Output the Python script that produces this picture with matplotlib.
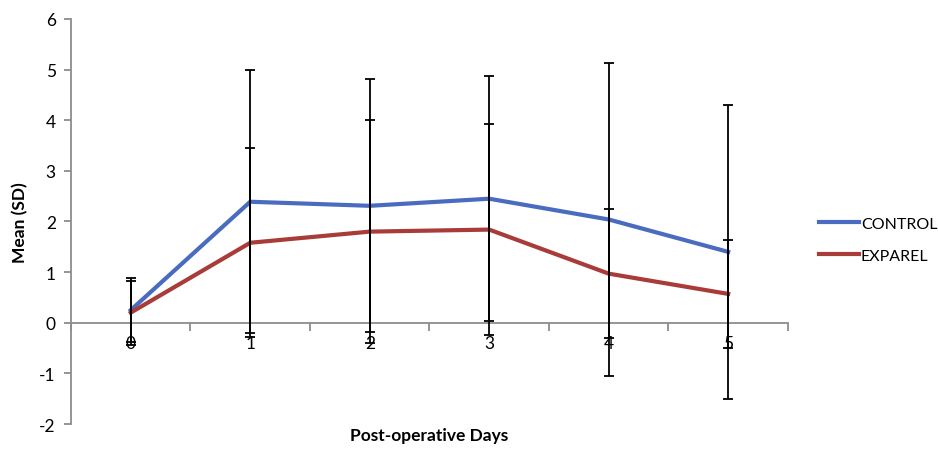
import matplotlib.pyplot as plt
import numpy as np

days = [0, 1, 2, 3, 4, 5]
control_mean = [0.25, 2.39, 2.31, 2.45, 2.04, 1.40]
control_sd = [0.63, 2.60, 2.50, 2.42, 3.10, 2.90]
exparel_mean = [0.20, 1.58, 1.80, 1.84, 0.97, 0.57]
exparel_sd = [0.63, 1.87, 2.20, 2.08, 1.27, 1.06]

BLUE = "#4A6CC0"
RED = "#A93B39"
GRAY = "#8C8C8C"

plt.rcParams["font.family"] = ["Lato", "DejaVu Sans"]
plt.rcParams["axes.unicode_minus"] = False

fig = plt.figure(figsize=(9.38, 4.52), dpi=100)
ax = fig.add_axes([0.0757, 0.0597, 0.7643, 0.8961])

x = np.array(days)
ax.plot(x, control_mean, color=BLUE, lw=3, label="CONTROL", zorder=2)
ax.plot(x, exparel_mean, color=RED, lw=3, label="EXPAREL", zorder=2)
ax.errorbar(x, control_mean, yerr=control_sd, fmt="none", ecolor="black",
            elinewidth=1.3, capsize=3.8, capthick=1.3, zorder=3)
ax.errorbar(x, exparel_mean, yerr=exparel_sd, fmt="none", ecolor="black",
            elinewidth=1.3, capsize=3.8, capthick=1.3, zorder=3)

ax.set_xlim(-0.5, 5.5)
ax.set_ylim(-2, 6)

for s in ["top", "right"]:
    ax.spines[s].set_visible(False)
ax.spines["bottom"].set_position(("data", 0))
ax.spines["bottom"].set_color(GRAY)
ax.spines["left"].set_color(GRAY)
ax.spines["bottom"].set_linewidth(1.3)
ax.spines["left"].set_linewidth(1.3)

ax.set_yticks(range(-2, 7))
ax.tick_params(axis="y", length=5, color=GRAY, width=1.3, labelsize=12.5, pad=6)

# tick marks between categories, labels at the categories
ax.set_xticks(np.arange(-0.5, 5.6, 1.0))
ax.set_xticklabels([])
ax.set_xticks(x, minor=True)
ax.set_xticklabels([str(d) for d in days], minor=True)
ax.tick_params(axis="x", which="major", length=6, color=GRAY, width=1.3, direction="out")
ax.tick_params(axis="x", which="minor", length=0, labelsize=12.5, pad=9)

ax.set_ylabel("Mean (SD)", fontsize=12.5, fontweight="bold", labelpad=8)
fig.text(0.458, 0.018, "Post-operative Days", fontsize=12.5, fontweight="bold",
         ha="center", va="bottom")

ax.legend(loc="center left", bbox_to_anchor=(1.035, 0.455), frameon=False,
          fontsize=11.5, handlelength=2.5, handletextpad=0.1, labelspacing=1.1,
          borderaxespad=0.0)

fig.savefig("out.png", dpi=100)
